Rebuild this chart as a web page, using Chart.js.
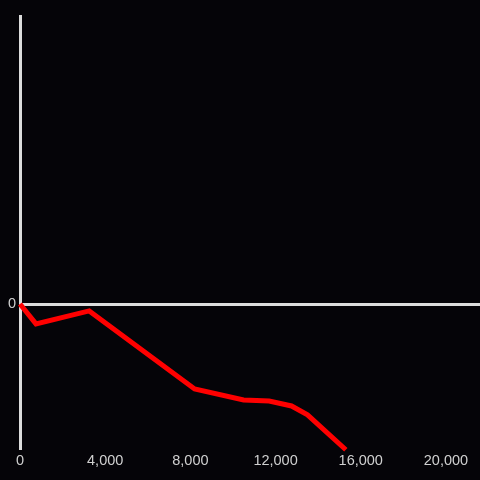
<!DOCTYPE html>
<html lang="en">
<head>
<meta charset="UTF-8" />
<title>Line chart</title>
<script src="https://cdn.jsdelivr.net/npm/chart.js"></script>
<style>
  html, body { margin: 0; padding: 0; background: #050408; }
  #wrap { width: 480px; height: 480px; }
</style>
</head>
<body>
<div id="wrap"><canvas id="chart"></canvas></div>
<script>
  // data
  const xValues = [0, 750, 3250, 8200, 10500, 11700, 12750, 13500, 15300];
  const yValues = [0, -6.9, -2.4, -29.5, -33.3, -33.7, -35.4, -38.5, -50.6];
  const xTicks = [0, 4000, 8000, 12000, 16000, 20000];

  const axisColor = '#dcdcdc';
  const textColor = '#d0d0d0';

  new Chart(document.getElementById('chart'), {
    type: 'line',
    data: {
      datasets: [{
        data: xValues.map((x, i) => ({ x: x, y: yValues[i] })),
        borderColor: '#ff0000',
        borderWidth: 5,
        pointRadius: 0,
        tension: 0,
        fill: false,
        clip: false
      }]
    },
    options: {
      responsive: true,
      maintainAspectRatio: false,
      animation: false,
      layout: { padding: { top: 16, left: 0, right: 0, bottom: 0 } },
      plugins: { legend: { display: false }, tooltip: { enabled: false } },
      scales: {
        x: {
          type: 'linear',
          min: 0,
          max: 21600,
          afterBuildTicks: s => { s.ticks = xTicks.map(v => ({ value: v })); },
          afterFit: s => { s.height = 32; },
          grid: { display: false, drawTicks: false },
          border: { display: false },
          ticks: {
            color: textColor,
            font: { family: 'Liberation Sans', size: 14.5 },
            padding: 4,
            maxRotation: 0,
            callback: v => v.toLocaleString('en-US')
          }
        },
        y: {
          min: -50,
          max: 100,
          afterFit: s => { s.width = 20; },
          grid: {
            drawTicks: false,
            color: c => c.tick && c.tick.value === 0 ? axisColor : 'transparent',
            lineWidth: 3
          },
          border: { color: axisColor, width: 3 },
          ticks: {
            stepSize: 50,
            color: textColor,
            font: { family: 'Liberation Sans', size: 14.5 },
            padding: 4,
            callback: v => v === 0 ? '0' : ''
          }
        }
      }
    }
  });
</script>
</body>
</html>
